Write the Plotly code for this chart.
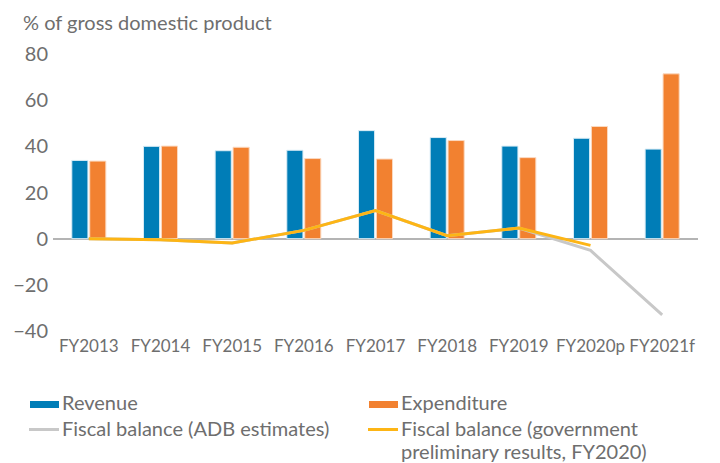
import plotly.graph_objects as go

categories = ["FY2013", "FY2014", "FY2015", "FY2016", "FY2017", "FY2018", "FY2019", "FY2020p", "FY2021f"]
revenue = [33.9, 40.0, 38.1, 38.3, 46.8, 43.8, 40.1, 43.5, 38.8]
expenditure = [33.6, 40.1, 39.6, 34.7, 34.5, 42.5, 35.1, 48.6, 71.4]
balance_adb = [0.0, -0.5, -1.9, 3.6, 12.2, 1.3, 4.6, -5.1, -33.0]
balance_gov = [0.0, -0.5, -1.9, 3.6, 12.2, 1.3, 4.6, -2.9, None]
y_ticks = [-40, -20, 0, 20, 40, 60, 80]
legend_labels = ["Revenue", "Expenditure", "Fiscal balance (ADB estimates)",
                 "Fiscal balance (government<br>preliminary results, FY2020)"]

BLUE = "#007DB7"
ORANGE = "#F28130"
GRAY = "#C8C8C8"
YELLOW = "#FDB515"
TXT = "#6E6E6E"
FONT = "Lato"

OFF = 8  # page body margin
W, H = 720 - OFF, 463 - OFF
# plot area in window pixels: x 53..698, y 54..331
L, R, T, B = 53 - OFF, 720 - 698, 54 - OFF, 463 - 331
PW, PH = W - L - R, H - T - B


def px(x):  # window pixel -> paper x
    return (x - OFF - L) / PW


def py(y):  # window pixel -> paper y
    return (H - B - (y - OFF)) / PH


fig = go.Figure()
fig.add_trace(go.Bar(x=categories, y=revenue, name=legend_labels[0],
                     marker=dict(color=BLUE, line=dict(color="#D9ECF5", width=1)), showlegend=False))
fig.add_trace(go.Bar(x=categories, y=expenditure, name=legend_labels[1],
                     marker=dict(color=ORANGE, line=dict(color="#FBD9C0", width=1)), showlegend=False))
fig.add_trace(go.Scatter(x=categories, y=balance_adb, mode="lines", name="ADB",
                         line=dict(color=GRAY, width=3), showlegend=False))
fig.add_trace(go.Scatter(x=categories, y=balance_gov, mode="lines", name="Gov",
                         line=dict(color=YELLOW, width=3), showlegend=False))

# manual legend (two columns)
legend_items = [
    # (symbol x0, x1, y center, thickness, color, text x, text y center, label)
    (30, 59, 404.5, 7, BLUE, 60, 402, legend_labels[0]),
    (369, 398, 404.5, 7, ORANGE, 399, 402, legend_labels[1]),
    (29, 59, 429.5, 3, GRAY, 60, 428, legend_labels[2]),
    (368, 398, 429.5, 3, YELLOW, 399, 428, legend_labels[3]),
]
LINE_STEP = 23
shapes = []
annotations = []
for x0, x1, yc, th, col, tx, ty, lab in legend_items:
    shapes.append(dict(type="rect", xref="paper", yref="paper",
                       x0=px(x0), x1=px(x1), y0=py(yc - th / 2), y1=py(yc + th / 2),
                       fillcolor=col, line=dict(width=0)))
    for i, line in enumerate(lab.split("<br>")):
        annotations.append(dict(text=line, xref="paper", yref="paper", x=px(tx), y=py(ty + i * LINE_STEP),
                                xanchor="left", yanchor="middle", align="left", showarrow=False,
                                font=dict(family=FONT, size=20, color=TXT)))

annotations.append(dict(text="% of gross domestic product", xref="paper", yref="paper",
                        x=px(21), y=py(22), xanchor="left", yanchor="middle", showarrow=False,
                        font=dict(family=FONT, size=20, color=TXT)))

fig.update_layout(
    width=W, height=H,
    margin=dict(l=L, r=R, t=T, b=B, autoexpand=False),
    paper_bgcolor="white", plot_bgcolor="white",
    font=dict(family=FONT, color=TXT, size=17),
    barmode="group", bargap=0.5, bargroupgap=0.1,
    showlegend=False,
    xaxis=dict(showgrid=False, showline=False, ticks="", tickfont=dict(size=17, color=TXT),
               zeroline=False, automargin=False, ticklabelstandoff=3),
    yaxis=dict(range=[-40, 80], tickvals=y_ticks, ticktext=[str(v).replace("-", "\u2212") for v in y_ticks],
               showgrid=False, zeroline=True, zerolinecolor="#B4B4B4", zerolinewidth=2,
               ticks="", tickfont=dict(size=20, color=TXT), ticklabelstandoff=4, automargin=False),
    shapes=shapes,
    annotations=annotations,
)

fig.write_html("out.html")
